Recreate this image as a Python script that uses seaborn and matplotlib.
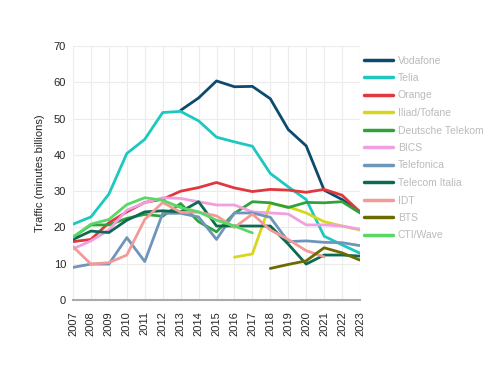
import seaborn as sns
import matplotlib.pyplot as plt
import numpy as np
import pandas as pd

nan = np.nan
years = list(range(2007, 2024))

vodafone = [nan, nan, nan, nan, nan, nan, 52.3, 55.7, 60.4, 58.8, 58.9, 55.5, 47.0, 42.5, 30.3, 27.7, 24.3]
telia = [20.9, 22.9, 29.2, 40.4, 44.3, 51.7, 52.0, 49.4, 44.9, 43.6, 42.4, 34.9, 31.2, 27.7, 17.6, 15.2, 12.9]
orange = [16.1, 16.7, 21.3, 24.3, 26.9, 27.8, 30.0, 31.0, 32.4, 30.9, 29.9, 30.5, 30.3, 29.7, 30.5, 28.9, 24.3]
iliad = [nan, nan, nan, nan, nan, nan, nan, nan, nan, 11.8, 12.7, 26.6, 25.7, 24.0, 21.6, 20.4, 19.3]
dtelekom = [17.3, 20.7, 20.7, 22.5, 23.6, 23.1, 26.6, 21.6, 18.8, 23.9, 27.1, 26.8, 25.5, 26.9, 26.8, 27.1, 24.0]
bics = [14.1, 16.3, 19.3, 24.8, 26.8, 28.2, 28.0, 27.1, 26.2, 26.2, 24.3, 24.0, 23.7, 20.7, 20.7, 20.4, 19.5]
telefonica = [9.0, 9.9, 9.9, 17.2, 10.6, 23.9, 23.9, 22.9, 16.7, 24.0, 24.0, 22.8, 16.1, 16.3, 15.9, 15.8, 15.0]
tim = [16.7, 19.0, 18.6, 22.0, 24.3, 24.6, 24.3, 27.1, 20.4, 20.4, 20.4, 20.4, 15.4, 9.9, 12.4, 12.4, 12.1]
idt = [14.7, 9.9, 10.3, 12.4, 22.2, 26.9, 24.2, 24.2, 23.2, 20.0, 23.7, 19.3, 16.7, 13.6, 11.9, nan, nan]
bts = [nan, nan, nan, nan, nan, nan, nan, nan, nan, nan, nan, 8.7, 9.8, 10.8, 14.4, 13.0, 11.0]
cti = [17.3, 20.9, 22.2, 26.3, 28.2, 27.5, 25.5, 24.3, 22.0, 20.4, 18.5, nan, nan, nan, nan, nan, nan]

carriers = ["Vodafone", "Telia", "Orange", "Iliad/Tofane", "Deutsche Telekom", "BICS",
            "Telefonica", "Telecom Italia", "IDT", "BTS", "CTI/Wave"]
series = [vodafone, telia, orange, iliad, dtelekom, bics, telefonica, tim, idt, bts, cti]
colors = ["#0c4a6e", "#1cc8bf", "#e0383e", "#d6d61c", "#2fa23b", "#f0a0e0",
          "#7095bb", "#0d6a52", "#f29a98", "#6b6b00", "#5ad866"]

df = pd.DataFrame({"year": years * len(carriers),
                   "carrier": np.repeat(carriers, len(years)),
                   "traffic": np.concatenate(series)}).dropna()

sns.set_style("whitegrid")
plt.rcParams['font.family'] = ['Liberation Sans', 'DejaVu Sans']

fig = plt.figure(figsize=(5, 3.75), dpi=100)
ax = fig.add_axes([0.146, 0.2, 0.574, 0.677])
sns.lineplot(data=df, x="year", y="traffic", hue="carrier", hue_order=carriers,
             palette=colors, linewidth=2, ax=ax)

ax.set_xlim(2007, 2023)
ax.set_ylim(0, 70)
ax.set_xticks(years)
ax.set_xticklabels([str(y) for y in years], rotation=90, fontsize=8)
ax.set_yticks(range(0, 71, 10))
ax.tick_params(axis="y", labelsize=8, length=0, pad=5)
ax.tick_params(axis="x", length=0, pad=8)
ax.set_xlabel("")
ax.set_ylabel("Traffic (minutes billions)", fontsize=8, labelpad=6)
ax.grid(color="#ececec", linewidth=0.8)
for s in ["left", "right", "top"]:
    ax.spines[s].set_visible(False)
ax.spines["bottom"].set_color("#aaaaaa")
ax.spines["bottom"].set_linewidth(1.5)

leg = ax.legend(loc="upper left", bbox_to_anchor=(0.983, 1.0), frameon=False,
                fontsize=7.5, handlelength=2.7, handletextpad=0.5, labelspacing=0.72)
for line in leg.get_lines():
    line.set_linewidth(2.5)
for t in leg.get_texts():
    t.set_color("#bbbbbb")

fig.savefig("out.png", dpi=100)
